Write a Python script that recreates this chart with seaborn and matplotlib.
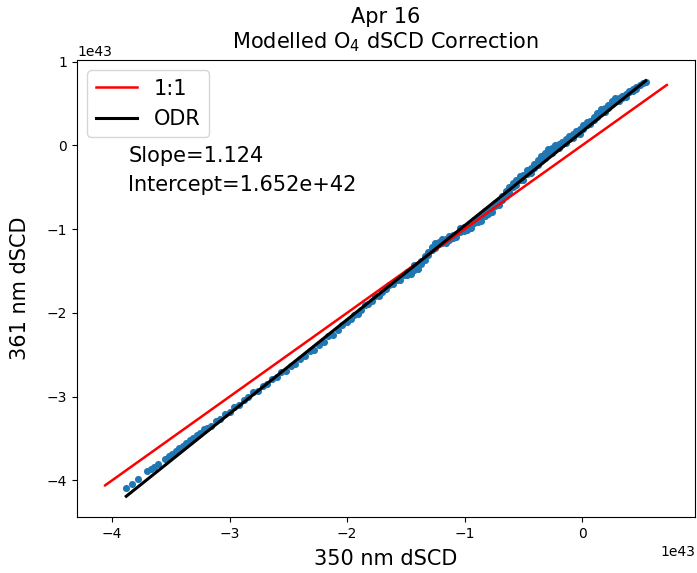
import numpy as np
import pandas as pd
import matplotlib
matplotlib.use("Agg")
import matplotlib.pyplot as plt
import seaborn as sns

# values in units of 1e43 molec/cm2
unit = 1e43

# lower tail (sparse points)
x_low = [-3.88, -3.83, -3.78, -3.70, -3.67, -3.64, -3.61, -3.55, -3.52, -3.49,
         -3.46, -3.43, -3.40, -3.37, -3.34, -3.31, -3.28, -3.25, -3.22, -3.19,
         -3.16, -3.12, -3.08, -3.04, -3.00, -2.96, -2.92, -2.88, -2.84, -2.80,
         -2.76, -2.72, -2.68, -2.64, -2.60, -2.56, -2.52, -2.48, -2.44, -2.40,
         -2.36, -2.32, -2.28, -2.24, -2.20, -2.16, -2.12, -2.08, -2.04, -2.00]
y_low = [-4.09, -4.04, -3.98, -3.89, -3.86, -3.84, -3.80, -3.75, -3.71, -3.68,
         -3.65, -3.62, -3.59, -3.56, -3.52, -3.50, -3.46, -3.44, -3.39, -3.37,
         -3.35, -3.29, -3.27, -3.21, -3.18, -3.12, -3.10, -3.04, -3.01, -2.95,
         -2.93, -2.87, -2.85, -2.79, -2.77, -2.71, -2.69, -2.63, -2.61, -2.55,
         -2.52, -2.46, -2.44, -2.38, -2.35, -2.28, -2.26, -2.20, -2.15, -2.11]

# middle part
x_mid = [-1.97, -1.94, -1.91, -1.88, -1.85, -1.82, -1.79, -1.76, -1.73, -1.70,
         -1.67, -1.64, -1.61, -1.58, -1.55, -1.52,
         -1.49, -1.49, -1.46, -1.46, -1.43, -1.43, -1.40, -1.40, -1.37, -1.37,
         -1.34, -1.34, -1.31, -1.31, -1.28, -1.28, -1.25, -1.25, -1.22, -1.22,
         -1.19, -1.19, -1.16, -1.16, -1.13, -1.13, -1.10, -1.10, -1.07, -1.07,
         -1.04, -1.04, -1.01, -1.01, -0.98, -0.98, -0.95, -0.95, -0.92, -0.92,
         -0.89, -0.89, -0.86, -0.86, -0.83, -0.83, -0.80, -0.80, -0.77, -0.77,
         -0.74, -0.74, -0.71, -0.71, -0.68, -0.68, -0.65, -0.65, -0.62, -0.62,
         -0.59, -0.59, -0.56, -0.56, -0.53, -0.53, -0.50, -0.50, -0.47, -0.47,
         -0.44, -0.44, -0.41, -0.41, -0.38, -0.38, -0.35, -0.35, -0.32, -0.32]
y_mid = [-2.08, -2.03, -2.01, -1.97, -1.91, -1.90, -1.86, -1.80, -1.80, -1.75,
         -1.72, -1.67, -1.66, -1.61, -1.61, -1.55,
         -1.55, -1.51, -1.54, -1.50, -1.49, -1.43, -1.48, -1.43, -1.42, -1.38,
         -1.37, -1.32, -1.31, -1.27, -1.25, -1.21, -1.23, -1.17, -1.18, -1.15,
         -1.17, -1.12, -1.12, -1.17, -1.08, -1.13, -1.07, -1.11, -1.06, -1.10,
         -1.03, -0.99, -1.02, -0.98, -1.01, -0.96, -0.95, -0.99, -0.93, -0.89,
         -0.92, -0.88, -0.90, -0.85, -0.84, -0.79, -0.82, -0.77, -0.80, -0.75,
         -0.73, -0.69, -0.71, -0.66, -0.65, -0.60, -0.61, -0.55, -0.56, -0.50,
         -0.50, -0.45, -0.48, -0.42, -0.42, -0.37, -0.41, -0.35, -0.34, -0.29,
         -0.33, -0.27, -0.27, -0.22, -0.24, -0.17, -0.19, -0.13, -0.15, -0.09]

# upper part
x_high = [-0.29, -0.29, -0.26, -0.26, -0.23, -0.23, -0.20, -0.20, -0.17, -0.17,
          -0.14, -0.14, -0.11, -0.11, -0.08, -0.08, -0.05, -0.05, -0.02, -0.02,
          0.01, 0.01, 0.04, 0.04, 0.07, 0.07, 0.10, 0.10, 0.13, 0.13,
          0.16, 0.16, 0.19, 0.19, 0.22, 0.22, 0.25, 0.25, 0.28, 0.28,
          0.31, 0.31, 0.34, 0.34, 0.37, 0.37, 0.40, 0.40, 0.43, 0.43,
          0.46, 0.46, 0.49, 0.52, 0.54]
y_high = [-0.10, -0.04, -0.09, -0.03, -0.04, 0.00, -0.03, 0.02, 0.01, 0.04,
          0.03, 0.07, 0.07, 0.11, 0.09, 0.13, 0.13, 0.17, 0.14, 0.19,
          0.20, 0.24, 0.24, 0.28, 0.25, 0.29, 0.30, 0.34, 0.34, 0.38,
          0.39, 0.43, 0.40, 0.44, 0.44, 0.48, 0.49, 0.53, 0.53, 0.57,
          0.53, 0.56, 0.56, 0.59, 0.58, 0.61, 0.63, 0.65, 0.65, 0.67,
          0.67, 0.69, 0.72, 0.74, 0.76]

# reference lines
one_to_one = [-4.06, 0.72]
odr_x = [-3.88, 0.54]
odr_y = [-4.19, 0.77]
slope = 1.124
intercept = 1.652e42

pts = pd.DataFrame({
    "x350": np.array(x_low + x_mid + x_high) * unit,
    "y361": np.array(y_low + y_mid + y_high) * unit,
})

fig, ax = plt.subplots(figsize=(6.97, 5.73), dpi=100)
fig.subplots_adjust(left=0.1105, right=0.997, top=0.8953, bottom=0.0977)

sns.scatterplot(data=pts, x="x350", y="y361", color="#1f77b4", s=26,
                linewidth=0, ax=ax)
sns.lineplot(x=np.array(one_to_one) * unit, y=np.array(one_to_one) * unit,
             color="red", lw=1.8, label="1:1", ax=ax)
sns.lineplot(x=np.array(odr_x) * unit, y=np.array(odr_y) * unit,
             color="black", lw=2.2, label="ODR", ax=ax)

ax.text(0.083, 0.79, f"Slope={slope:.3f}", transform=ax.transAxes,
        fontsize=15, va="center")
ax.text(0.083, 0.727, f"Intercept={intercept:.3e}", transform=ax.transAxes,
        fontsize=15, va="center")

ax.legend(loc="upper left", fontsize=15)
ax.set_title("Apr 16\nModelled O$_4$ dSCD Correction", fontsize=15, pad=8)
ax.set_xlabel("350 nm dSCD", fontsize=15, labelpad=6)
ax.set_ylabel("361 nm dSCD", fontsize=15, labelpad=12)
ax.tick_params(labelsize=10)

fig.savefig("out.png", dpi=100)
